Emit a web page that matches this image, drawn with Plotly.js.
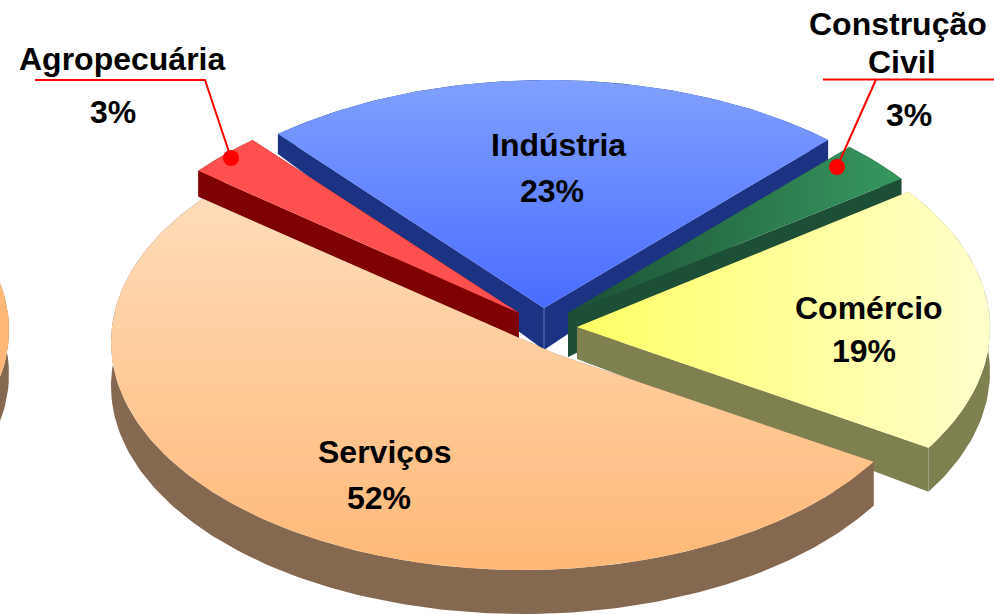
<!DOCTYPE html>
<html><head><meta charset="utf-8">
<script src="https://cdn.plot.ly/plotly-3.0.1.min.js"></script>
<style>html,body{margin:0;padding:0;background:#fff}#c{width:994px;height:614px}</style>
</head><body><div id="c"></div>
<script>
// --- data ---
var categories = ['Serviços','Agropecuária','Indústria','Construção Civil','Comércio'];
var shares = [52,3,23,3,19];
var labelLines = ['Serviços','52%','Agropecuária','3%','Indústria','23%','Construção','Civil','3%','Comércio','19%'];
var labelX = [384,379,122,113,558,552,898,902,909,869,864];
var labelY = [452,498,59,112,145,191,24,62,115,308,351];
// --- geometry of the exploded projection ---
var startDeg = 31.7, B = 228;
var arcA   = [412,412,416,412,412];
var arcCx  = [523,519,547,571,578];
var arcCy  = [342,314,308,315,328];
var apexX  = [556,519,544,568,577];
var apexY  = [354,313,308,313,327];
var depth  = [44,26,42,44,32];
var edgeD  = [44,26,20,22,44];
var topFrom = ['#ffdcb9','#ff5050','#80a0ff','#1c5035','#ffff66'];
var topTo   = ['#ffb877','#ff5050','#4a6cff','#36985f','#ffffcc'];
var gradKind = ['vertical','vertical','vertical','horizontal','horizontal'];
var wallColor = ['#856850','#7f0000','#1c3384','#1c4f35','#7f8050'];
var drawOrder = [2,1,3,4,0];

var traces = [];
function arc(i,a0,a1,dy){
  var xs=[],ys=[],n=Math.max(8,Math.round(Math.abs(a1-a0)));
  for(var k=0;k<=n;k++){
    var t=(a0+(a1-a0)*k/n)*Math.PI/180;
    xs.push(arcCx[i]+arcA[i]*Math.cos(t)); ys.push(arcCy[i]+B*Math.sin(t)+dy);
  }
  return [xs,ys];
}
function poly(xs,ys,color,grad){
  var tr={type:'scatter',mode:'lines',x:xs,y:ys,fill:'toself',line:{width:0,color:color},fillcolor:color,hoverinfo:'skip',showlegend:false};
  if(grad) tr.fillgradient=grad;
  traces.push(tr);
}
function seam(x,y0,y1,color){
  traces.push({type:'scatter',mode:'lines',x:[x,x],y:[y0,y1],line:{width:1,color:color},hoverinfo:'skip',showlegend:false});
}
var total=shares.reduce(function(p,c){return p+c;},0), starts=[], acc=startDeg;
shares.forEach(function(v){starts.push(acc); acc+=v/total*360;});
drawOrder.forEach(function(i){
  var a0=starts[i], a1=a0+shares[i]/total*360, d=edgeD[i];
  var top=arc(i,a0,a1,0);
  var n=top[0].length-1;
  var dA=depth[i];
  poly([apexX[i],top[0][0],top[0][0],apexX[i]],[apexY[i],top[1][0],top[1][0]+d,apexY[i]+dA],wallColor[i]);
  poly([apexX[i],top[0][n],top[0][n],apexX[i]],[apexY[i],top[1][n],top[1][n]+d,apexY[i]+dA],wallColor[i]);
  var lo=arc(i,a0,a1,d);
  poly(top[0].concat(lo[0].slice().reverse()),top[1].concat(lo[1].slice().reverse()),wallColor[i]);
  if(i===2) seam(apexX[i],apexY[i],apexY[i]+dA,'#5f72b0');
  if(i===4) seam(top[0][0],top[1][0],top[1][0]+d,'#a5a680');
  // the vertical gradient runs bottom to top on this reversed axis
  var scale = gradKind[i]==='vertical' ? [[0,topTo[i]],[1,topFrom[i]]] : [[0,topFrom[i]],[1,topTo[i]]];
  var g = topFrom[i]===topTo[i] ? null : {type:gradKind[i],colorscale:scale};
  poly([apexX[i]].concat(top[0]).concat([apexX[i]]),[apexY[i]].concat(top[1]).concat([apexY[i]]),topFrom[i],g);
});
// neighbouring pie just entering at the left edge
var nbX=[],nbY=[],nbLoX=[],nbLoY=[];
for(var t=-40;t<=40;t+=2){
  var r=t*Math.PI/180;
  nbX.push(-403+412*Math.cos(r)); nbY.push(330+B*Math.sin(r));
  nbLoX.push(-403+412*Math.cos(r)); nbLoY.push(374+B*Math.sin(r));
}
poly(nbX.concat(nbLoX.slice().reverse()),nbY.concat(nbLoY.slice().reverse()),'#856850');
poly(nbX,nbY,'#ffb877');

// leader lines
var leaderA={x:[35,205,231],y:[80,80,158]}, leaderC={x:[823,994],y:[79.5,79.5]}, leaderC2={x:[876,837],y:[79.5,167]};
[leaderA,leaderC,leaderC2].forEach(function(l){
  traces.push({type:'scatter',mode:'lines',x:l.x,y:l.y,line:{color:'#ff0000',width:2},hoverinfo:'skip',showlegend:false});
});
traces.push({type:'scatter',mode:'markers',x:[231,837],y:[158,167],marker:{color:'#ff0000',size:16},hoverinfo:'skip',showlegend:false});

var annotations=labelLines.map(function(c,i){
  return {x:labelX[i],y:labelY[i],xref:'x',yref:'y',text:'<b>'+c+'</b>',showarrow:false,
    font:{family:'Liberation Sans, Arial, sans-serif',size:32,color:'#000'},xanchor:'center',yanchor:'middle',align:'center'};
});
Plotly.newPlot('c',traces,{
  width:994,height:614,margin:{l:0,r:0,t:0,b:0},paper_bgcolor:'#fff',plot_bgcolor:'#fff',showlegend:false,
  xaxis:{range:[0,994],visible:false,fixedrange:true},
  yaxis:{range:[614,0],visible:false,fixedrange:true},
  annotations:annotations
},{displayModeBar:false,staticPlot:true});
</script></body></html>
